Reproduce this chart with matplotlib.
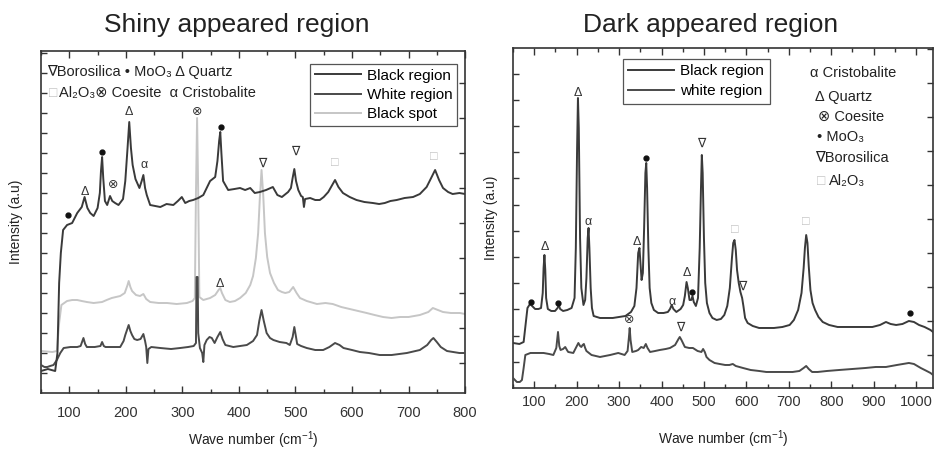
import numpy as np
import matplotlib
matplotlib.use('Agg')
import matplotlib.pyplot as plt
from matplotlib.ticker import MultipleLocator

plt.rcParams['font.family'] = ['Liberation Sans', 'DejaVu Sans']
plt.rcParams['mathtext.fontset'] = 'custom'
plt.rcParams['mathtext.rm'] = 'Liberation Sans'
plt.rcParams['mathtext.default'] = 'regular'

# ---- Shiny appeared region (left) ----
shiny_black_wn = [50, 62, 75, 79, 82, 85, 89, 96, 105, 114, 122, 127, 132, 137, 143, 150, 154, 156, 158, 160,
                  163, 167, 172, 176, 181, 187, 195, 199, 203, 206, 209, 212, 217, 224, 228, 231, 234, 237, 243,
                  252, 261, 272, 284, 292, 299, 305, 312, 319, 328, 337, 349, 358, 362, 365, 367, 369, 372, 381,
                  392, 402, 411, 420, 428, 437, 448, 460, 468, 476, 487, 492, 495, 498, 501, 505, 510, 513, 515,
                  517, 526, 535, 543, 550, 558, 564, 570, 576, 584, 596, 608, 622, 637, 648, 658, 668, 679, 693,
                  708, 720, 732, 740, 747, 754, 761, 770, 778, 790, 800]
shiny_black_h = [22, 24, 22, 40, 110, 140, 163, 168, 170, 180, 186, 196, 185, 180, 177, 185, 200, 222, 236, 215,
                 192, 188, 197, 192, 190, 188, 194, 212, 245, 271, 245, 228, 214, 205, 212, 218, 205, 198, 188,
                 187, 186, 189, 188, 192, 196, 190, 192, 193, 195, 198, 212, 216, 232, 252, 261, 240, 212, 203,
                 204, 205, 203, 205, 200, 201, 203, 206, 198, 196, 201, 205, 215, 224, 212, 203, 197, 196, 186,
                 194, 195, 193, 193, 196, 201, 207, 213, 206, 200, 196, 193, 191, 190, 189, 190, 192, 193, 195,
                 196, 199, 206, 215, 223, 213, 205, 201, 199, 200, 199]

shiny_spot_wn = [50, 70, 78, 82, 86, 96, 105, 114, 122, 131, 143, 158, 166, 175, 190, 198, 203, 205, 208, 211,
                 218, 225, 231, 236, 243, 258, 273, 290, 308, 318, 322, 324, 326, 328, 330, 337, 349, 358, 364,
                 367, 370, 376, 384, 393, 402, 412, 420, 425, 430, 434, 437, 440, 443, 446, 450, 455, 462, 469,
                 476, 482, 489, 496, 502, 508, 520, 538, 553, 566, 581, 596, 611, 626, 640, 655, 670, 685, 700,
                 720, 735, 743, 752, 761, 775, 791, 800]
shiny_spot_h = [42, 41, 42, 70, 88, 92, 93, 93, 92, 91, 90, 91, 93, 95, 97, 100, 108, 112, 106, 102,
                98, 97, 99, 94, 91, 90, 90, 89, 90, 92, 95, 200, 275, 200, 96, 93, 95, 98, 103,
                105, 100, 93, 91, 92, 95, 100, 108, 117, 135, 160, 195, 223, 198, 160, 136, 120, 110, 103,
                101, 100, 101, 106, 100, 95, 92, 89, 90, 89, 86, 84, 82, 80, 78, 76, 75, 76, 76,
                78, 81, 85, 83, 81, 80, 80, 79]

shiny_white_wn = [50, 56, 61, 66, 72, 78, 84, 90, 102, 114, 120, 125, 128, 131, 145, 155, 158, 161, 164, 175,
                  190, 196, 199, 205, 208, 211, 215, 220, 226, 231, 234, 236, 238, 240, 245, 261, 280, 296, 310,
                  320, 324, 325, 327, 328, 331, 335, 337, 339, 343, 348, 352, 357, 362, 367, 371, 376, 390, 402,
                  414, 425, 432, 436, 440, 444, 449, 455, 461, 472, 484, 490, 495, 498, 501, 503, 510, 520, 535,
                  549, 560, 570, 578, 585, 600, 614, 630, 649, 670, 697, 720, 733, 740, 744, 750, 757, 768, 779,
                  790, 800]
shiny_white_h = [28, 26, 26, 27, 28, 33, 40, 45, 46, 46, 47, 55, 49, 46, 46, 47, 51, 47, 46, 46,
                 46, 52, 58, 68, 62, 58, 54, 53, 54, 59, 52, 46, 30, 44, 46, 45, 44, 45, 46,
                 47, 50, 116, 116, 60, 45, 40, 31, 48, 53, 56, 55, 50, 56, 61, 54, 48, 46, 47,
                 48, 52, 58, 72, 83, 72, 60, 55, 53, 51, 50, 48, 56, 66, 56, 49, 47, 45, 43,
                 43, 46, 50, 48, 45, 43, 41, 40, 38, 38, 40, 43, 48, 53, 55, 51, 46, 42, 41,
                 40, 40]

shiny_lab_wn = [98, 127, 158, 178, 206, 232, 326, 368, 367, 441, 499, 570, 745]
shiny_lab_h = [178, 201, 241, 208, 281, 228, 281, 266, 109, 229, 241, 230, 236]
shiny_lab_sym = ['dot', 'Δ', 'dot', '⊗', 'Δ', 'α', '⊗', 'dot', 'Δ', '∇', '∇', '□', '□']

# ---- Dark appeared region (right) ----
dark_black_wn = [50, 65, 75, 80, 84, 90, 95, 102, 110, 116, 120, 122, 124, 126, 128, 132, 140, 149, 155, 158,
                 161, 168, 178, 188, 195, 198, 201, 203, 205, 208, 211, 216, 220, 223, 226, 228, 230, 233, 236,
                 240, 255, 270, 285, 300, 315, 328, 336, 341, 345, 348, 351, 353, 356, 359, 362, 364, 366, 369,
                 372, 376, 382, 392, 405, 415, 420, 424, 428, 435, 445, 451, 455, 459, 462, 466, 470, 473, 476,
                 481, 486, 490, 493, 495, 497, 500, 503, 507, 513, 520, 530, 540, 548, 555, 561, 566, 569, 572,
                 575, 578, 582, 586, 590, 593, 597, 603, 615, 630, 647, 665, 685, 702, 712, 722, 730, 735, 738,
                 741, 744, 747, 751, 756, 762, 770, 780, 795, 815, 843, 870, 897, 915, 929, 940, 953, 968, 983,
                 995, 1007, 1020, 1034, 1040]
dark_black_h = [45, 44, 46, 65, 80, 84, 82, 79, 79, 80, 95, 120, 133, 118, 90, 79, 77, 77, 80, 83,
                79, 77, 78, 80, 90, 140, 240, 290, 260, 150, 100, 83, 88, 110, 150, 160, 140, 100, 80,
                72, 70, 70, 70, 71, 72, 76, 82, 100, 135, 140, 120, 108, 115, 160, 215, 225, 200, 140,
                100, 85, 78, 75, 75, 76, 79, 83, 79, 76, 79, 83, 92, 106, 100, 88, 88, 92, 86,
                82, 90, 140, 200, 233, 215, 150, 105, 85, 75, 70, 68, 69, 73, 82, 100, 130, 145, 148,
                138, 118, 105, 96, 90, 82, 70, 65, 62, 60, 60, 60, 61, 63, 68, 78, 95, 120, 140,
                153, 145, 122, 98, 85, 78, 71, 66, 63, 61, 61, 61, 61, 63, 66, 64, 63, 64, 67,
                66, 63, 61, 58, 56]

dark_white_wn = [50, 59, 66, 71, 75, 79, 91, 105, 122, 135, 145, 152, 156, 159, 162, 168, 173, 177, 180, 192,
                 198, 204, 208, 211, 214, 217, 220, 223, 235, 255, 279, 298, 313, 320, 323, 325, 327, 331, 340,
                 345, 352, 358, 363, 367, 373, 385, 396, 410, 420, 432, 440, 443, 447, 455, 465, 474, 485, 494,
                 498, 502, 506, 513, 525, 537, 550, 560, 568, 575, 592, 610, 630, 647, 670, 690, 709, 725, 735,
                 741, 747, 755, 768, 790, 819, 850, 881, 905, 929, 955, 983, 995, 1011, 1025, 1034, 1040]
dark_white_h = [10, 6, 6, 8, 20, 33, 35, 35, 35, 34, 33, 40, 56, 42, 38, 39, 41, 38, 36, 35,
                40, 45, 42, 41, 43, 44, 40, 37, 33, 31, 33, 35, 33, 37, 50, 60, 48, 36, 37,
                38, 41, 40, 44, 40, 36, 37, 38, 39, 40, 43, 49, 51, 48, 41, 40, 40, 37, 36,
                39, 36, 31, 28, 25, 24, 23, 23, 24, 22, 20, 18, 17, 16, 16, 16, 16, 17, 20,
                22, 19, 16, 16, 17, 18, 19, 20, 21, 21, 23, 25, 24, 20, 17, 15, 13]

dark_lab_wn = [92, 124, 156, 203, 227, 342, 363, 424, 459, 473, 494, 572, 590, 741, 985, 323, 445]
dark_lab_h = [86, 141, 85, 295, 166, 146, 230, 86, 115, 96, 244, 158, 101, 166, 75, 68, 60]
dark_lab_sym = ['dot', 'Δ', 'dot', 'Δ', 'α', 'Δ', 'dot', 'α', 'Δ', 'dot', '∇', '□', '∇', '□', 'dot', '⊗', '∇']

dark_key = ['α Cristobalite', 'Δ Quartz', '⊗ Coesite', '• MoO₃', '∇Borosilica', 'Al₂O₃']

C_DARK = '#3a3a3a'
C_MID = '#4a4a4a'
C_LIGHT = '#c6c6c6'
C_BOX = '#c0c0c0'
AX_C = '#333333'
TXT = '#222222'


def style(ax, ymax, xmax, left_step, right_ticks):
    ax.set_ylim(0, ymax)
    ax.set_xlim(50, xmax)
    ax.xaxis.set_major_locator(MultipleLocator(100))
    ax.xaxis.set_minor_locator(MultipleLocator(50))
    ax.set_yticks(np.arange(left_step, ymax, left_step))
    ax.tick_params(axis='x', which='both', direction='in', top=True, colors=AX_C, labelsize=10.5)
    ax.tick_params(axis='x', which='major', length=5, width=1)
    ax.tick_params(axis='x', which='minor', length=3, width=1)
    ax.tick_params(axis='y', direction='in', left=True, right=False, labelleft=False, length=4, width=1, colors=AX_C)
    for s in ax.spines.values():
        s.set_color(AX_C)
        s.set_linewidth(1.2)
    tw = ax.twinx()
    tw.set_ylim(0, ymax)
    tw.set_yticks(right_ticks)
    tw.tick_params(axis='y', direction='in', length=4, width=1, labelright=False, colors=AX_C)
    for s in tw.spines.values():
        s.set_visible(False)
    ax.set_ylabel('Intensity (a.u)', fontsize=10, color=TXT)
    ax.set_xlabel('Wave number (cm$^{-1}$)', fontsize=10, color=TXT)


def peak_labels(ax, wn, h, sym):
    for x, y, s in zip(wn, h, sym):
        if s == 'dot':
            ax.plot(x, y, 'o', ms=3.5, color='#111111', zorder=5)
        else:
            c = C_BOX if s == '□' else '#333333'
            ax.text(x, y, s, ha='center', va='center', fontsize=9, color=c, zorder=5)


fig = plt.figure(figsize=(9.35, 4.49), dpi=100)

# left panel
ax1 = fig.add_axes([0.0439, 0.1247, 0.4535, 0.7617])
ax1.plot(shiny_spot_wn, shiny_spot_h, color=C_LIGHT, lw=1.4, label='Black spot', zorder=2)
ax1.plot(shiny_white_wn, shiny_white_h, color=C_MID, lw=1.4, label='White region', zorder=3)
ax1.plot(shiny_black_wn, shiny_black_h, color=C_DARK, lw=1.4, label='Black region', zorder=3)
style(ax1, 342, 800, 20, np.arange(30, 342, 35))
ax1.tick_params(axis='x', pad=9)
ax1.xaxis.set_label_coords(0.5, -0.105)
ax1.yaxis.set_label_coords(-0.042, 0.5)
peak_labels(ax1, shiny_lab_wn, shiny_lab_h, shiny_lab_sym)
h, l = ax1.get_legend_handles_labels()
leg = ax1.legend([h[2], h[1], h[0]], [l[2], l[1], l[0]], loc='upper right', bbox_to_anchor=(0.981, 0.962),
                 borderaxespad=0, fancybox=False, edgecolor='#555555', fontsize=11, handlelength=3.0,
                 labelspacing=0.35, borderpad=0.3, handletextpad=0.4, framealpha=1)
leg.get_frame().set_linewidth(0.9)
ax1.text(0.015, 0.94, '∇Borosilica • MoO₃ Δ Quartz', transform=ax1.transAxes, fontsize=10.5,
         va='center', ha='left', color=TXT)
ax1.text(0.018, 0.877, '□', transform=ax1.transAxes, fontsize=10, va='center', ha='left', color=C_BOX)
ax1.text(0.042, 0.877, 'Al₂O₃⊗ Coesite  α Cristobalite', transform=ax1.transAxes, fontsize=10.5,
         va='center', ha='left', color=TXT)

# right panel
ax2 = fig.add_axes([0.5487, 0.1359, 0.4492, 0.7572])
ax2.plot(dark_black_wn, dark_black_h, color=C_DARK, lw=1.4, label='Black region', zorder=3)
ax2.plot(dark_white_wn, dark_white_h, color=C_MID, lw=1.4, label='white region', zorder=3)
style(ax2, 340, 1040, 26.2, np.arange(33, 340, 34))
ax2.tick_params(axis='x', pad=5)
ax2.xaxis.set_label_coords(0.5, -0.118)
ax2.yaxis.set_label_coords(-0.036, 0.5)
peak_labels(ax2, dark_lab_wn, dark_lab_h, dark_lab_sym)
leg2 = ax2.legend(loc='upper left', bbox_to_anchor=(0.262, 0.968), borderaxespad=0, fancybox=False,
                  edgecolor='#555555', fontsize=11, handlelength=3.0, labelspacing=0.4, borderpad=0.35,
                  handletextpad=0.4, framealpha=1)
leg2.get_frame().set_linewidth(0.9)
key_x = [0.707, 0.719, 0.726, 0.724, 0.719, 0.752]
key_y = [0.926, 0.856, 0.797, 0.738, 0.676, 0.609]
for txt, xx, yy in zip(dark_key, key_x, key_y):
    ax2.text(xx, yy, txt, transform=ax2.transAxes, fontsize=10.5, va='center', ha='left', color=TXT)
ax2.text(0.724, key_y[-1], '□', transform=ax2.transAxes, fontsize=10, va='center', ha='left', color=C_BOX)

fig.text(237 / 935, 1 - 32 / 449, 'Shiny appeared region', ha='center', va='baseline', fontsize=19, color=TXT)
fig.text(711 / 935, 1 - 32 / 449, 'Dark appeared region', ha='center', va='baseline', fontsize=19, color=TXT)

fig.savefig('out.png', dpi=100, facecolor='white')
